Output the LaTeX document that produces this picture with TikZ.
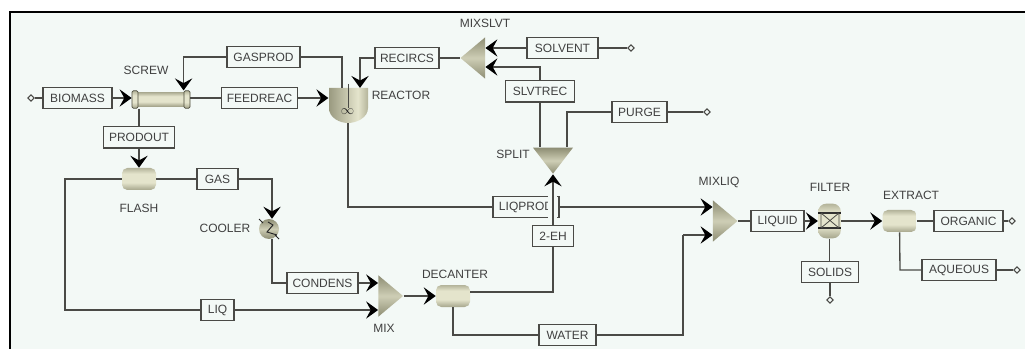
\documentclass[tikz,border=0pt]{standalone}
\usepackage{fontspec}
\setmainfont{Liberation Sans}
\usepackage{tikz}
\usetikzlibrary{calc}
\usetikzlibrary{arrows.meta}
\usetikzlibrary{shapes.geometric}
\definecolor{sheetbg}{HTML}{F3F9F6}
\definecolor{inkline}{HTML}{4A4A46}
\definecolor{unitdark}{HTML}{4C4C3C}
\definecolor{unitmid}{HTML}{9A9A80}
\definecolor{unitpale}{HTML}{E4E4CC}
\pgfdeclareverticalshading{unitshade}{100bp}{
color(0bp)=(unitdark); color(22bp)=(unitmid);
color(42bp)=(unitpale); color(62bp)=(unitpale);
color(82bp)=(unitmid); color(100bp)=(unitdark)}
\pgfdeclareverticalshading{wedgeshade}{100bp}{
color(0bp)=(unitdark); color(30bp)=(unitmid);
color(50bp)=(unitpale!70!unitmid); color(70bp)=(unitmid); color(100bp)=(unitdark)}
\pgfdeclarehorizontalshading{potshade}{100bp}{
color(0bp)=(unitdark); color(25bp)=(unitmid);
color(62bp)=(unitpale); color(82bp)=(unitmid); color(100bp)=(unitdark)}
\tikzset{
stream/.style={draw=inkline, line width=1pt, fill=sheetbg, minimum height=16pt, minimum width=#1*0.75pt, inner sep=0pt, font=\fontsize{9}{9}\selectfont, text=black!75},
tag/.style={inner sep=0pt, font=\fontsize{9}{9}\selectfont, text=black!75},
pipe/.style={draw=inkline, line width=1pt},
feed/.style={pipe, -{Stealth[length=9pt, width=13pt, inset=3.5pt, color=black]}},
vessel/.style={rounded corners=4pt, shading=unitshade, minimum height=16.5pt, minimum width=25.5pt, inner sep=0pt},
endmark/.style={diamond, draw=inkline, line width=0.7pt, fill=sheetbg, minimum size=5pt, inner sep=0pt},
mixer/.style={isosceles triangle, isosceles triangle stretches, shape border rotate=#1, inner sep=0pt, shading=wedgeshade, shading angle=0, minimum width=31pt, minimum height=18.5pt}
}
\begin{document}
\begin{tikzpicture}[x=0.75pt, y=-0.75pt]
\useasboundingbox (0, 0) rectangle (1025, 349);
\fill[white] (0, 0) rectangle (1025, 349);
\fill[sheetbg] (10, 12) rectangle (1025, 349);
\draw[black, line width=1.5pt] (10, 349) -- (10, 12) -- (1025, 12);

% units
\node[vessel, rounded corners=0pt, minimum width=36pt, minimum height=10pt] at (161, 99.5) (screw) {};
\node[vessel, rounded corners=1pt, minimum width=4.5pt, minimum height=13pt, draw=unitdark, line width=0.6pt] at (135, 99.5) (screwin) {};
\node[vessel, rounded corners=1pt, minimum width=4.5pt, minimum height=13pt, draw=unitdark, line width=0.6pt] at (187, 99.5) (screwout) {};
\shade[shading=potshade] (329, 88) -- (368, 88) -- (368, 108) .. controls (368, 118) and (356, 123) .. (348, 123) .. controls (340, 123) and (329, 118) .. (329, 108) -- cycle;
\node[minimum width=29pt, minimum height=26pt, inner sep=0pt] at (348, 105.5) (reactor) {};
\draw[inkline, line width=0.7pt] (348, 84) -- (348, 108);
\node[inner sep=0pt, text=black!85] at (347.5, 112) (stirrer) {$\infty$};
\node[mixer=180] at (475.5, 58) (mixslvt) {};
\node[mixer=270, minimum width=30pt, minimum height=19.5pt] at (553, 157.5) (split) {};
\node[mixer=0] at (388, 296) (mix) {};
\node[mixer=0] at (722.5, 221) (mixliq) {};
\node[vessel] at (139, 179) (flash) {};
\node[vessel] at (453, 296) (decanter) {};
\node[vessel] at (899.5, 221) (extract) {};
\node[vessel, rounded corners=6pt, minimum width=17pt, minimum height=26pt] at (829.5, 221) (filter) {};
\draw[black!85, line width=0.9pt] (818, 213) -- (841, 213) (818, 228) -- (841, 228);
\draw[inkline, line width=0.6pt] (821, 213) rectangle (839, 228) (821, 213) -- (839, 228) (821, 228) -- (839, 213);
\node[circle, shading=wedgeshade, minimum size=15pt, inner sep=0pt] at (269, 229) (cooler) {};
\draw[black!85, line width=0.7pt] (259, 219) -- (263, 223) (275, 235) -- (279, 239) (268, 222) -- (273, 225) -- (267, 232) -- (277, 235);

% streams
\node[stream=69] at (77.5, 98) (biomass) {BIOMASS};
\node[stream=73] at (263.5, 57) (gasprod) {GASPROD};
\node[stream=76] at (259.5, 98) (feedreac) {FEEDREAC};
\node[stream=71] at (139, 137.5) (prodout) {PRODOUT};
\node[stream=64] at (407, 58) (recircs) {RECIRCS};
\node[stream=71] at (562.5, 48) (solvent) {SOLVENT};
\node[stream=69] at (540, 91.5) (slvtrec) {SLVTREC};
\node[stream=55] at (639.5, 112) (purge) {PURGE};
\node[stream=41] at (217.5, 179) (gas) {GAS};
\node[stream=71] at (322.5, 283) (condens) {CONDENS};
\node[stream=33] at (217.5, 310) (liq) {LIQ};
\node[stream=66] at (526, 207) (liqprod) {LIQPROD};
\node[stream=41] at (553, 236) (twoeh) {2-EH};
\node[stream=57] at (567.5, 335) (water) {WATER};
\node[stream=53] at (777.5, 221) (liquid) {LIQUID};
\node[stream=57] at (830, 272) (solids) {SOLIDS};
\node[stream=69] at (968.5, 221) (organic) {ORGANIC};
\node[stream=74] at (959, 270) (aqueous) {AQUEOUS};

% feed and product ends
\node[endmark] at (31, 98) (biomassend) {};
\node[endmark] at (631, 48) (solventend) {};
\node[endmark] at (707, 112) (purgeend) {};
\node[endmark] at (830, 300) (solidsend) {};
\node[endmark] at (1012, 221) (organicend) {};
\node[endmark] at (1017, 270) (aqueousend) {};

% unit names
\node[tag] at (146, 70) (screwname) {SCREW};
\node[tag] at (401, 95) (reactorname) {REACTOR};
\node[tag] at (485, 23) (mixslvtname) {MIXSLVT};
\node[tag] at (513, 154) (splitname) {SPLIT};
\node[tag] at (139, 208) (flashname) {FLASH};
\node[tag] at (225, 228) (coolername) {COOLER};
\node[tag] at (455, 274) (decantername) {DECANTER};
\node[tag] at (384, 328) (mixname) {MIX};
\node[tag] at (719, 182) (mixliqname) {MIXLIQ};
\node[tag] at (830, 187) (filtername) {FILTER};
\node[tag] at (911, 195) (extractname) {EXTRACT};

% connectors
\coordinate (gasprodtop) at (342, 57);
\coordinate (recircsdrop) at (360, 58);
\coordinate (slvtrecturn) at (540, 67);
\coordinate (purgeturn) at (567, 112);
\coordinate (liqcorner) at (348, 207);
\coordinate (gascorner) at (272, 179);
\coordinate (condcorner) at (272, 283);
\coordinate (flashleft) at (65, 179);
\coordinate (liqleft) at (65, 310);
\coordinate (ehcorner) at (553, 292);
\coordinate (waterfoot) at (453, 335);
\coordinate (waterrise) at (683, 335);
\coordinate (watertop) at (683, 235);
\coordinate (aqueousfoot) at (900, 270);
\draw[pipe] (biomassend) -- (biomass);
\draw[feed] (biomass) -- (biomass -| screwin.west);
\draw[pipe] (feedreac -| screwout.east) -- (feedreac);
\draw[feed] (feedreac) -- (feedreac -| reactor.west);
\draw[pipe] (screwin.south -| prodout) -- (prodout);
\draw[feed] (prodout) -- (flash);
\draw[feed] (gasprod) -| (screwout.north west);
\draw[pipe] (gasprod) -- (gasprodtop) -- (gasprodtop |- reactor.north);
\draw[feed] (recircs) -- (recircsdrop) -- (recircsdrop |- reactor.north);
\draw[pipe] (recircs) -- (mixslvt.apex);
\draw[feed] (solvent) -- (solvent -| mixslvt.lower side);
\draw[pipe] (solvent) -- (solventend);
\draw[feed] (slvtrec) -- (slvtrecturn) -- (slvtrecturn -| mixslvt.lower side);
\draw[pipe] (slvtrec) -- (slvtrec |- split.lower side);
\draw[pipe] (purge) -- (purgeturn) -- (purgeturn |- split.lower side);
\draw[pipe] (purge) -- (purgeend);
\draw[pipe] (flash) -- (gas);
\draw[feed] (gas) -- (gascorner) -- (gascorner |- cooler.north);
\draw[pipe] (gascorner |- cooler.south) -- (condcorner) -- (condens);
\draw[feed] (condens) -- (condens -| mix.lower side);
\draw[pipe] (flash) -- (flashleft) -- (liqleft) -- (liq);
\draw[feed] (liq) -- (liq -| mix.lower side);
\draw[feed] (mix.apex) -- (decanter);
\draw[pipe] (decanter.east |- ehcorner) -- (ehcorner) -- (twoeh);
\draw[pipe] (reactor.south) -- (liqcorner) -- (liqprod);
\draw[feed] (liqprod) -- (liqprod -| mixliq.lower side);
\fill[sheetbg] (548, 196) rectangle (556.5, 219.5);
\draw[feed] (twoeh) -- (split.apex);
\draw[pipe] (decanter) -- (waterfoot) -- (water);
\draw[pipe] (water) -- (waterrise) -- (watertop);
\draw[feed] (watertop) -- (watertop -| mixliq.lower side);
\draw[pipe] (mixliq.apex) -- (liquid);
\draw[feed] (liquid) -- (filter);
\draw[pipe] (filter) -- (filter |- solids.north);
\draw[pipe] (solids) -- (solidsend);
\draw[feed] (filter) -- (extract);
\draw[pipe] (extract) -- (organic);
\draw[pipe] (organic) -- (organicend);
\draw[pipe] (extract) -- (aqueousfoot) -- (aqueous);
\draw[pipe] (aqueous) -- (aqueousend);
\end{tikzpicture}
\end{document}
